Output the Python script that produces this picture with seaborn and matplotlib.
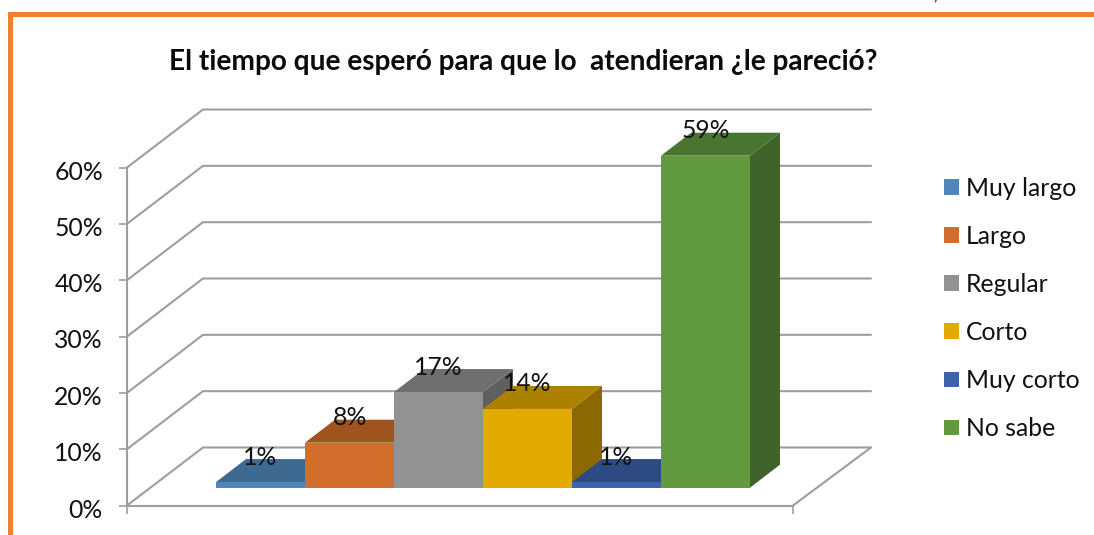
import matplotlib
matplotlib.use("Agg")
import matplotlib.pyplot as plt
from matplotlib.patches import Polygon, Rectangle, Patch
from matplotlib.transforms import ScaledTranslation
import pandas as pd
import seaborn as sns

categories = ["Muy largo", "Largo", "Regular", "Corto", "Muy corto", "No sabe"]
values = [1, 8, 17, 14, 1, 59]
front_colors = ["#4F86BD", "#D26E2B", "#929292", "#E3AA00", "#3B64AD", "#619A3F"]
top_colors = ["#3E6A91", "#9F531F", "#6F6F6F", "#AD8100", "#2D4B82", "#4A7530"]
side_colors = ["#355C80", "#8A4719", "#5F5F5F", "#8B6900", "#263F6E", "#3F632B"]
y_ticks = [0, 10, 20, 30, 40, 50, 60]
title = "El tiempo que esperó para que lo  atendieran ¿le pareció?"

W, H = 1094, 535
sns.set_theme(style="white")
plt.rcParams["font.family"] = ["Lato", "DejaVu Sans"]
GRID = "#9E9E9E"
TXT = "#111111"
FS = 17.8

fig = plt.figure(figsize=(W / 100, H / 100), dpi=100, facecolor="white")


def px_axes(x0, x1, ytop, ybot):
    return fig.add_axes([x0 / W, 1 - ybot / H, (x1 - x0) / W, (ybot - ytop) / H])


# outer orange frame
for (x, y, w, h) in [(8, 12, W - 8, 5), (8, 12, 5, H - 12)]:
    fig.add_artist(Rectangle((x / W, 1 - (y + h) / H), w / W, h / H,
                             transform=fig.transFigure, color="#F08133", lw=0))
fig.text(936 / W, 1 + 5 / H, ")", fontsize=13, color="#444444", ha="center", va="center")

# value axis and 3D wall lines
ax = px_axes(127, 793, 167.5, 505.5)
ax.patch.set_alpha(0)
ax.set_xlim(127, 793)
ax.set_ylim(0, 60)
ax.set_yticks(y_ticks)
ax.set_yticklabels([f"{v}%" for v in y_ticks], fontsize=FS, color=TXT)
ax.set_xticks([127, 793])
ax.set_xticklabels(["", ""])
ax.tick_params(axis="both", length=5.5, width=1.2, color=GRID, left=True, bottom=True, pad=11.8)
for lab in ax.get_yticklabels():
    lab.set_transform(lab.get_transform() + ScaledTranslation(0, -2.5 / 100, fig.dpi_scale_trans))
for s in ("top", "right"):
    ax.spines[s].set_visible(False)
for s in ("left", "bottom"):
    ax.spines[s].set_color(GRID)
    ax.spines[s].set_linewidth(1.5)
depth_y = 58 / (338 / 60)
for v in y_ticks:
    ax.plot([127, 203, 871], [v, v + depth_y, v + depth_y], color=GRID, lw=1.5,
            clip_on=False, solid_joinstyle="miter")
ax.plot([793, 871], [0, depth_y], color=GRID, lw=1.5, clip_on=False)

# bars
df = pd.DataFrame({"cat": categories, "val": values})
bx = px_axes(216, 750, 155.7, 487.7)
bx.patch.set_alpha(0)
sns.barplot(data=df, x="cat", y="val", hue="cat", order=categories, hue_order=categories,
            palette=front_colors, width=1, dodge=False, legend=False, saturation=1,
            linewidth=0, ax=bx)
bx.set_xlim(-0.5, 5.5)
bx.set_ylim(0, 59)
bx.axis("off")
dx, dy = 30 / 89, 23 / (332 / 59)
bars = sorted(bx.patches, key=lambda p: p.get_x())
for i, p in enumerate(bars):
    x0, w, h = p.get_x(), p.get_width(), p.get_height()
    x1 = x0 + w
    p.set_zorder(3 * i + 4)
    p.set_clip_on(False)
    bx.add_patch(Polygon([(x1, 0), (x1 + dx, dy), (x1 + dx, h + dy), (x1, h)],
                         color=side_colors[i], lw=0, zorder=3 * i + 2, clip_on=False))
    bx.add_patch(Polygon([(x0, h), (x0 + dx, h + dy), (x1 + dx, h + dy), (x1, h)],
                         color=top_colors[i], lw=0, zorder=3 * i + 3, clip_on=False))
    bx.annotate(f"{values[i]}%", (x0 + w / 2, h), xytext=(0, 25), textcoords="offset pixels",
                ha="center", va="center", fontsize=FS, color=TXT, zorder=60,
                annotation_clip=False)

fig.text(523 / W, 1 - 62 / H, title, fontsize=20.2, fontweight="bold", color="#0A0A0A",
         ha="center", va="center")

# legend
handles = [Patch(facecolor=c, edgecolor="none", label=n) for c, n in zip(front_colors, categories)]
leg = fig.legend(handles=handles, loc="center left", bbox_to_anchor=(944 / W, 1 - 308.5 / H),
                 frameon=False, fontsize=FS, handlelength=0.61, handleheight=0.61,
                 handletextpad=0.27, labelspacing=1.015, borderpad=0, borderaxespad=0)
for t in leg.get_texts():
    t.set_color(TXT)

fig.savefig("out.png", dpi=100, facecolor="white")
